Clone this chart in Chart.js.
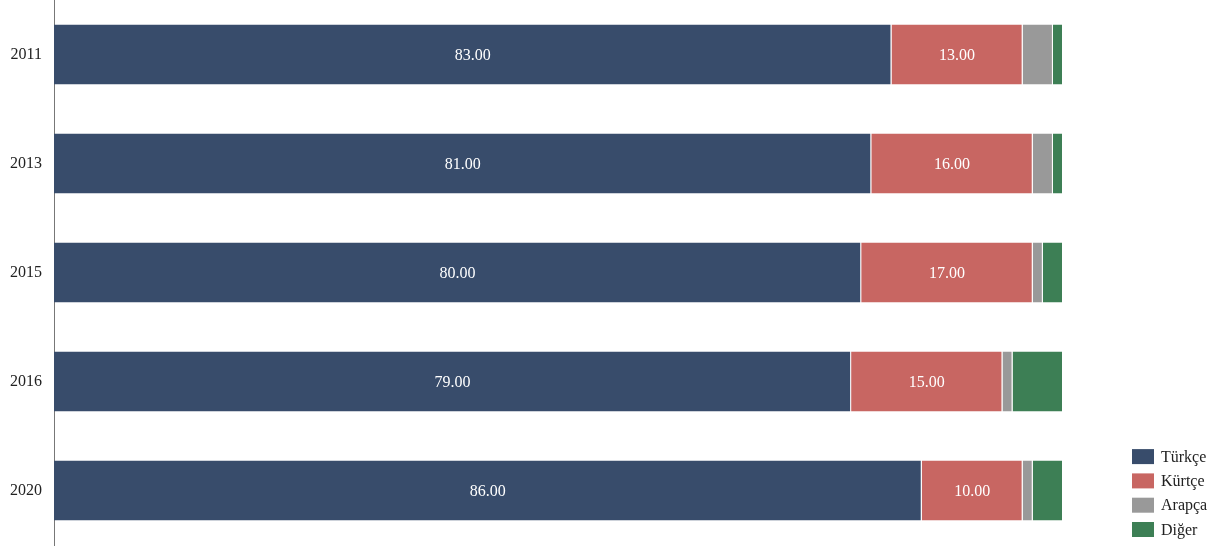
<!DOCTYPE html>
<html>
<head>
<meta charset="utf-8">
<script src="https://cdn.jsdelivr.net/npm/chart.js@4"></script>
<style>
  html, body { margin: 0; padding: 0; background: #fff; }
  #wrap { width: 1217px; height: 550px; }
</style>
</head>
<body>
<div id="wrap"><canvas id="langChart"></canvas></div>
<script>
// share of languages by survey year (%)
const years = ['2011', '2013', '2015', '2016', '2020'];
const turkce = [83, 81, 80, 79, 86];
const kurtce = [13, 16, 17, 15, 10];
const arapca = [3, 2, 1, 1, 1];
const diger = [1, 1, 2, 5, 3];
const seriesNames = ['Türkçe', 'Kürtçe', 'Arapça', 'Diğer'];
const seriesColors = ['#384c6b', '#c86662', '#999999', '#3d7f55'];
const labelledSeries = [0, 1]; // only the wide segments get a value inside

const FONT = '"Liberation Serif", "Times New Roman", serif';

// value text centered in the bar segments
const valueLabels = {
  id: 'valueLabels',
  afterDatasetsDraw(chart) {
    const { ctx } = chart;
    ctx.save();
    ctx.font = '16px ' + FONT;
    ctx.fillStyle = '#fff';
    ctx.textAlign = 'center';
    ctx.textBaseline = 'middle';
    labelledSeries.forEach(i => {
      chart.getDatasetMeta(i).data.forEach((bar, j) => {
        const { x, y } = bar.getCenterPoint();
        ctx.fillText(chart.data.datasets[i].data[j].toFixed(2), x, y + 1);
      });
    });
    ctx.restore();
  }
};

// legend stacked in the lower right corner
const sideLegend = {
  id: 'sideLegend',
  afterDraw(chart) {
    const { ctx, chartArea } = chart;
    const sets = chart.data.datasets;
    const step = 24.3;
    const x = chartArea.right + 69;
    const top = chartArea.bottom - 15.5 - step * (sets.length - 1);
    ctx.save();
    ctx.font = '16px ' + FONT;
    ctx.textAlign = 'left';
    ctx.textBaseline = 'middle';
    sets.forEach((ds, i) => {
      const cy = top + i * step;
      ctx.fillStyle = ds.backgroundColor;
      ctx.fillRect(x, cy - 7.5, 22, 15);
      ctx.fillStyle = '#222';
      ctx.fillText(ds.label, x + 29, cy + 1);
    });
    ctx.restore();
  }
};

const series = [turkce, kurtce, arapca, diger];

new Chart(document.getElementById('langChart'), {
  type: 'bar',
  data: {
    labels: years,
    datasets: series.map((values, i) => ({
      label: seriesNames[i],
      data: values,
      backgroundColor: seriesColors[i],
      borderColor: '#ffffff',
      borderWidth: { top: 0, bottom: 0, left: 0, right: 1 },
      borderSkipped: false,
      barPercentage: 0.55,
      categoryPercentage: 1
    }))
  },
  options: {
    indexAxis: 'y',
    responsive: true,
    maintainAspectRatio: false,
    animation: false,
    layout: { padding: { left: 10, right: 154, top: 0, bottom: 5 } },
    plugins: {
      legend: { display: false },
      tooltip: { enabled: false }
    },
    scales: {
      x: { stacked: true, min: 0, max: 100, display: false },
      y: {
        stacked: true,
        grid: { display: false, drawTicks: false },
        border: { color: '#777', width: 1 },
        ticks: { padding: 12, color: '#222', font: { family: FONT, size: 16 } },
        // keep the axis tight: no extra room above/below the bands
        afterFit(scale) {
          scale.width = 44;
          scale.paddingTop = 0;
          scale.paddingBottom = 0;
        }
      }
    }
  },
  plugins: [valueLabels, sideLegend]
});
</script>
</body>
</html>
